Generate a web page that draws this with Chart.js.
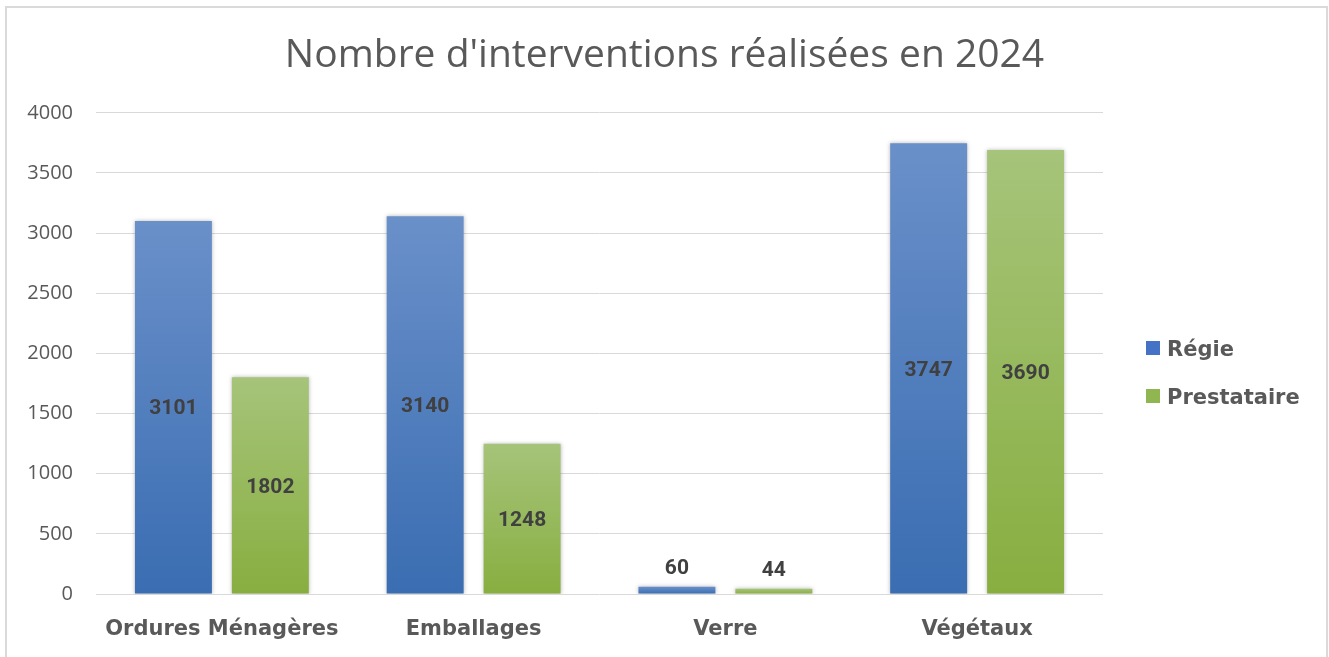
<!DOCTYPE html>
<html>
<head>
<meta charset="utf-8">
<script src="https://cdn.jsdelivr.net/npm/chart.js@4/dist/chart.umd.min.js"></script>
<style>
    html, body { margin: 0; padding: 0; background: #fff; }
    #frame { position: absolute; left: 5px; top: 6px; width: 1319px; height: 660px; border: 2px solid #dadada; box-sizing: content-box; }
    #wrap { position: absolute; left: 0; top: 0; width: 1329px; height: 657px; }
</style>
</head>
<body>
<div id="frame"></div>
<div id="wrap"><canvas id="chart" width="1329" height="657"></canvas></div>
<script>
const categories = ['Ordures Ménagères', 'Emballages', 'Verre', 'Végétaux'];
const regie       = [3101, 3140, 60, 3747];
const prestataire = [1802, 1248, 44, 3690];
const yTicks      = [0, 500, 1000, 1500, 2000, 2500, 3000, 3500, 4000];

const BLUE  = { top: '#6a90c9', bottom: '#3a6db2', flat: '#4a7bbf' };
const GREEN = { top: '#a6c47a', bottom: '#88ae40', flat: '#93b755' };

function barGradient(c) {
    return ctx => {
        const chart = ctx.chart;
        const area = chart.chartArea;
        if (!area || ctx.parsed == null) return c.flat;
        const y = chart.scales.y;
        const top = y.getPixelForValue(ctx.parsed.y);
        const bottom = y.getPixelForValue(0);
        if (bottom - top < 2) return c.flat;
        const g = chart.ctx.createLinearGradient(0, top, 0, bottom);
        g.addColorStop(0, c.top);
        g.addColorStop(1, c.bottom);
        return g;
    };
}

const barDecor = {
    id: 'barDecor',
    beforeDatasetsDraw(chart) {
        const ctx = chart.ctx;
        ctx.save();
        ctx.shadowColor = 'rgba(0,0,0,0.28)';
        ctx.shadowBlur = 4;
        ctx.shadowOffsetX = 0;
        ctx.shadowOffsetY = 0;
    },
    afterDatasetsDraw(chart) {
        const ctx = chart.ctx;
        ctx.restore();
        ctx.save();
        ctx.font = 'bold 21px Roboto';
        ctx.fillStyle = '#404040';
        ctx.textAlign = 'center';
        ctx.textBaseline = 'middle';
        chart.data.datasets.forEach((ds, i) => {
            chart.getDatasetMeta(i).data.forEach((bar, j) => {
                const h = bar.base - bar.y;
                const y = h > 40 ? bar.y + h / 2 : bar.y - 20;
                ctx.fillText(String(ds.data[j]), bar.x, y + 2);
            });
        });
        ctx.restore();
    }
};

const sideLegend = {
    id: 'sideLegend',
    afterDraw(chart) {
        const ctx = chart.ctx;
        const x = chart.chartArea.right + 43;
        const baselines = [356, 404];
        ctx.save();
        ctx.font = 'bold 21px "DejaVu Sans"';
        ctx.textBaseline = 'alphabetic';
        ctx.textAlign = 'left';
        chart.data.datasets.forEach((ds, i) => {
            ctx.fillStyle = ds.legendColor;
            ctx.fillRect(x, baselines[i] - 15, 14, 14);
            ctx.fillStyle = '#595959';
            ctx.fillText(ds.label, x + 21, baselines[i]);
        });
        ctx.restore();
    }
};

new Chart(document.getElementById('chart'), {
    type: 'bar',
    data: {
        labels: categories,
        datasets: [
            { label: 'Régie',       data: regie,       backgroundColor: barGradient(BLUE),  legendColor: '#4472c4', borderWidth: 0 },
            { label: 'Prestataire', data: prestataire, backgroundColor: barGradient(GREEN), legendColor: '#8fb650', borderWidth: 0 }
        ]
    },
    options: {
        responsive: false,
        animation: false,
        categoryPercentage: 0.77,
        barPercentage: 0.794,
        layout: { padding: 0 },
        plugins: {
            legend: { display: false },
            tooltip: { enabled: false },
            title: {
                display: true,
                text: "Nombre d'interventions réalisées en 2024",
                color: '#595959',
                font: { family: 'Open Sans', size: 39, weight: 'normal', lineHeight: 1.2 },
                padding: { top: 32, bottom: 34 }
            }
        },
        scales: {
            x: {
                grid: { display: false, drawTicks: false },
                border: { display: false },
                ticks: { color: '#595959', font: { family: 'DejaVu Sans', size: 21, weight: 'bold' }, padding: 23 },
                afterFit: s => { s.height = 63; }
            },
            y: {
                min: 0,
                max: 4000,
                afterBuildTicks: s => { s.ticks = yTicks.map(v => ({ value: v })); },
                grid: { color: '#d9d9d9', lineWidth: 1, drawTicks: false },
                border: { display: false },
                ticks: { color: '#595959', font: { family: 'Open Sans', size: 20 }, padding: 23, callback: v => String(v) },
                afterFit: s => { s.width = 96; }
            },
            // empty right-hand scale that reserves room for the legend
            legendSpace: {
                position: 'right',
                grid: { display: false, drawTicks: false },
                border: { display: false },
                ticks: { display: false },
                afterFit: s => { s.width = 226; }
            }
        }
    },
    plugins: [barDecor, sideLegend]
});
</script>
</body>
</html>
